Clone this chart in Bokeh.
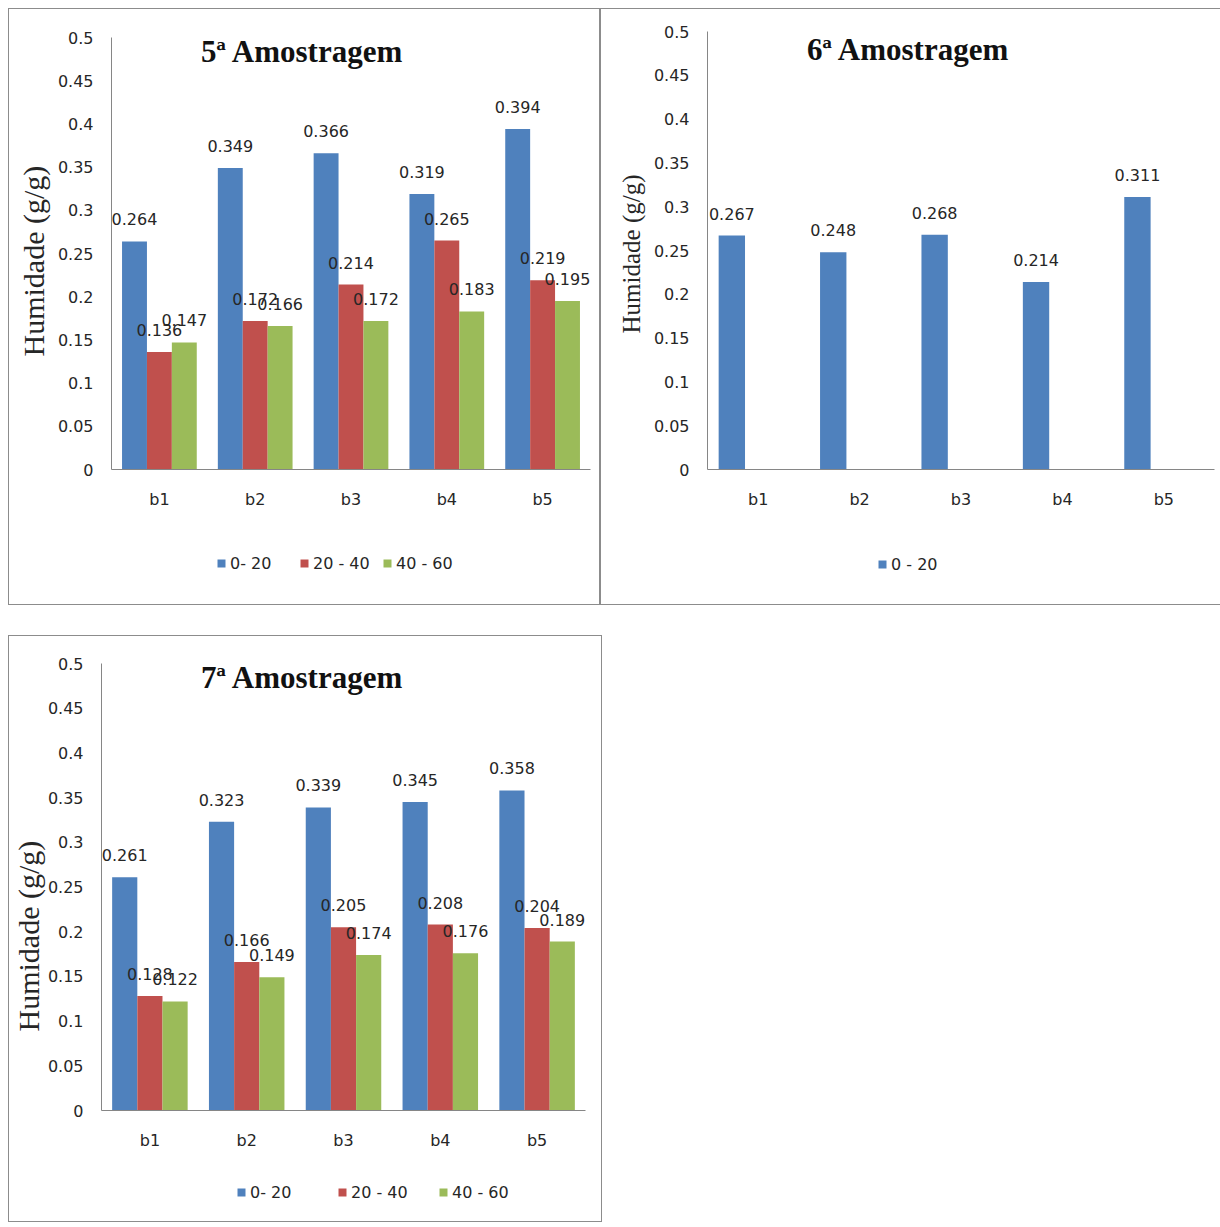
from bokeh.plotting import figure
from bokeh.models import (Range1d, FactorRange, FixedTicker, NumeralTickFormatter,
                          Label, Legend, LegendItem, ColumnDataSource, Title)
from bokeh.transform import dodge
from bokeh.layouts import column, row
from bokeh.embed import file_html
from bokeh.resources import INLINE
from bokeh.core.properties import value

# ---------------- data ----------------
categories = ["b1", "b2", "b3", "b4", "b5"]
y_ticks = [0, 0.05, 0.1, 0.15, 0.2, 0.25, 0.3, 0.35, 0.4, 0.45, 0.5]

titles = ["5ª Amostragem", "6ª Amostragem", "7ª Amostragem"]
y_title = "Humidade (g/g)"

legend_5 = ["0- 20", "20 - 40", "40 - 60"]
legend_6 = ["0 - 20"]
legend_7 = ["0- 20", "20 - 40", "40 - 60"]

s5_0_20 = [0.264, 0.349, 0.366, 0.319, 0.394]
s5_20_40 = [0.136, 0.172, 0.214, 0.265, 0.219]
s5_40_60 = [0.147, 0.166, 0.172, 0.183, 0.195]

s6_0_20 = [0.267, 0.248, 0.268, 0.214, 0.311]

s7_0_20 = [0.261, 0.323, 0.339, 0.345, 0.358]
s7_20_40 = [0.128, 0.166, 0.205, 0.208, 0.204]
s7_40_60 = [0.122, 0.149, 0.174, 0.176, 0.189]

# ---------------- styles ----------------
COLORS = ["#4F81BD", "#C0504D", "#9BBB59"]
OFFSETS = [-0.26, 0.0, 0.26]
BAR_W = 0.26
SANS = "DejaVu Sans"
SERIF = "Liberation Serif"
TXT = "#262626"
AXIS = "#868686"
BORDER = {"border": "1px solid #8c8c8c"}


def make_panel(title, series, legend_labels, width, chart_h, legend_h, borders,
               title_xy, ylab_size, ylab_offset, ylab_standoff,
               legend_xy, legend_spacing):
    p = figure(x_range=FactorRange(*categories), y_range=Range1d(0, 0.5),
               width=width, height=chart_h, title=None,
               output_backend="svg", toolbar_location=None,
               min_border_left=borders[0], min_border_right=borders[1],
               min_border_top=borders[2], min_border_bottom=borders[3])
    p.outline_line_color = None
    p.xgrid.grid_line_color = None
    p.ygrid.grid_line_color = None
    p.background_fill_color = "white"
    p.border_fill_color = "white"

    sources = []
    for i, vals in enumerate(series):
        src = ColumnDataSource(dict(cat=categories, val=vals,
                                    lbl=[f"{v:.3f}" for v in vals]))
        sources.append(src)
        xd = dodge("cat", OFFSETS[i], range=p.x_range)
        p.vbar(x=xd, top="val", width=BAR_W, source=src,
               fill_color=COLORS[i], line_color=None)
        p.text(x=xd, y="val", text="lbl", source=src,
               text_align="center", text_baseline="middle", y_offset=-22,
               text_font=value(SANS), text_font_size="16px", text_color=TXT)

    for ax in (p.xaxis[0], p.yaxis[0]):
        ax.axis_line_color = AXIS
        ax.axis_line_width = 1
        ax.major_tick_line_color = None
        ax.minor_tick_line_color = None
        ax.major_tick_out = 0
        ax.major_tick_in = 0
        ax.minor_tick_out = 0
        ax.minor_tick_in = 0
        ax.major_label_text_font = SANS
        ax.major_label_text_font_size = "16px"
        ax.major_label_text_color = TXT
    p.xaxis.major_label_standoff = 20
    p.yaxis.major_label_standoff = 18
    p.yaxis.ticker = FixedTicker(ticks=y_ticks)
    p.yaxis.formatter = NumeralTickFormatter(format="0.[00]")

    p.add_layout(Label(x=title_xy[0], y=title_xy[1], x_units="screen", y_units="screen",
                       text=title, text_font=SERIF, text_font_style="bold",
                       text_font_size="31px", text_color="#111111",
                       text_align="center", text_baseline="middle"))
    p.add_layout(Title(text=y_title, align="left", offset=ylab_offset,
                       standoff=ylab_standoff,
                       text_font=SERIF, text_font_size=ylab_size,
                       text_font_style="normal", text_color="#262626"), "left")

    # legend strip below the chart (its frame is aligned with the chart frame)
    lf = figure(width=width, height=legend_h, x_range=p.x_range, y_range=Range1d(10, 11),
                output_backend="svg", toolbar_location=None, title=None,
                min_border=0, min_border_left=0, min_border_right=0,
                min_border_top=0, min_border_bottom=0)
    lf.axis.visible = False
    lf.grid.visible = False
    lf.outline_line_color = None
    lf.background_fill_color = "white"
    lf.border_fill_color = "white"
    items = []
    for i, lab in enumerate(legend_labels):
        # same series, out of this strip's visible y range: only the key shows
        r = lf.vbar(x=dodge("cat", OFFSETS[i], range=lf.x_range), top="val",
                    width=BAR_W, source=sources[i],
                    fill_color=COLORS[i], line_color=None)
        items.append(LegendItem(label=lab, renderers=[r]))
    leg = Legend(items=items, orientation="horizontal", location=legend_xy,
                 glyph_width=10, glyph_height=10, label_standoff=4,
                 label_width=60, label_height=20, spacing=legend_spacing,
                 padding=0, margin=0, border_line_color=None,
                 background_fill_alpha=0,
                 label_text_font=SANS, label_text_font_size="16px",
                 label_text_color=TXT)
    lf.add_layout(leg, "center")
    return column(p, lf, spacing=0, styles=BORDER)


panel5 = make_panel(titles[0], [s5_0_20, s5_20_40, s5_40_60], legend_5,
                    590, 506, 89, (101, 9, 28, 46),
                    (191, 418), "30px", 113, 10, (105, 31), 9)
panel6 = make_panel(titles[1], [s6_0_20], legend_6,
                    620, 506, 89, (106, 7, 22, 46),
                    (201, 420), "25px", 136, 12, (170, 30), 10)
panel7 = make_panel(titles[2], [s7_0_20, s7_20_40, s7_40_60], legend_7,
                    592, 520, 65, (91, 16, 27, 46),
                    (201, 433), "30px", 79, 0, (135, 19), 27)

layout = column(row(panel5, panel6, spacing=0), panel7, spacing=30, margin=(8, 0, 0, 8))

open("out.html", "w").write(file_html(layout, INLINE))
